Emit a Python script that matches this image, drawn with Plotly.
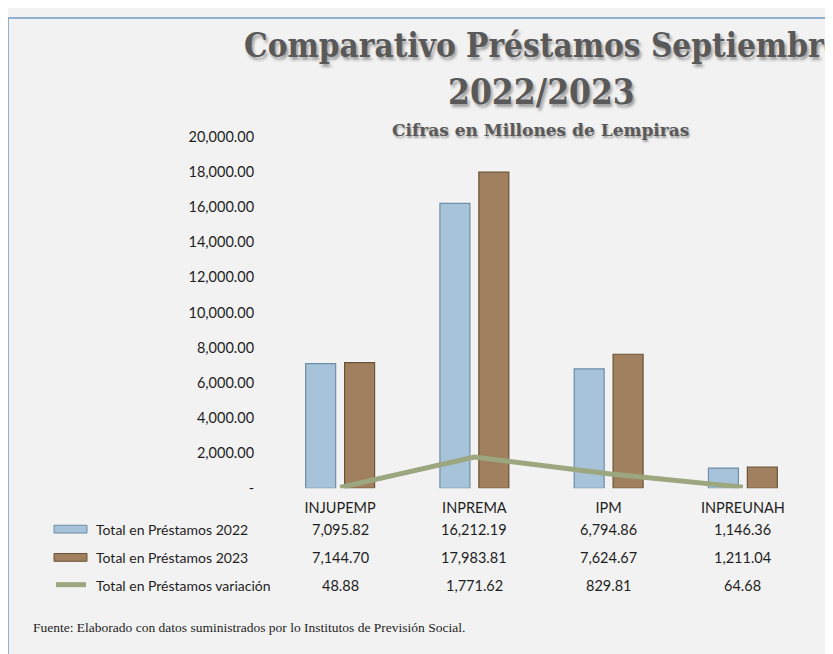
import plotly.graph_objects as go

# ---------------- data ----------------
categories = ["INJUPEMP", "INPREMA", "IPM", "INPREUNAH"]
prestamos_2022 = [7095.82, 16212.19, 6794.86, 1146.36]
prestamos_2023 = [7144.70, 17983.81, 7624.67, 1211.04]
variacion = [48.88, 1771.62, 829.81, 64.68]
series_names = ["Total en Préstamos 2022", "Total en Préstamos 2023", "Total en Préstamos variación"]
y_tick_values = [0, 2000, 4000, 6000, 8000, 10000, 12000, 14000, 16000, 18000, 20000]
y_tick_labels = ["-", "2,000.00", "4,000.00", "6,000.00", "8,000.00", "10,000.00",
                 "12,000.00", "14,000.00", "16,000.00", "18,000.00", "20,000.00"]
title_1 = "Comparativo Préstamos Septiembre"
title_2 = "2022/2023"
subtitle = "Cifras en Millones de Lempiras"
footer = "Fuente: Elaborado con datos suministrados por lo Institutos de Previsión Social."

# ---------------- layout helpers (screen pixel -> paper) ----------------
W, H = 825, 646
OX, OY = 8, 8


def px(x):
    return (x - OX) / W


def py(y):
    return 1 - (y - OY) / H


BLUE = "#A6C3DA"
BLUE_EDGE = "#6E8DA6"
BROWN = "#A0805F"
BROWN_EDGE = "#6A5238"
GREEN = "#9CA67F"
SANS = "Lato, sans-serif"
TXT = "#1E1E1E"

fig = go.Figure()
fig.add_trace(go.Bar(x=categories, y=prestamos_2022, name=series_names[0],
                     marker=dict(color=BLUE, line=dict(color=BLUE_EDGE, width=1.2))))
fig.add_trace(go.Bar(x=categories, y=prestamos_2023, name=series_names[1],
                     marker=dict(color=BROWN, line=dict(color=BROWN_EDGE, width=1.2))))
fig.add_trace(go.Scatter(x=categories, y=variacion, name=series_names[2], mode="lines",
                         line=dict(color=GREEN, width=5)))

annotations = []
TITLE_FONT = "DejaVu Serif Condensed, DejaVu Serif, serif"
annotations.append(dict(text=f"<b>{title_1}</b>", x=px(543), y=py(37), xref="paper", yref="paper",
                        showarrow=False, xanchor="center", yanchor="middle",
                        font=dict(family=TITLE_FONT, size=33,
                                  color="#595959", shadow="2px 3px 3px rgba(0,0,0,0.35)")))
annotations.append(dict(text=f"<b>{title_2}</b>", x=px(541), y=py(84), xref="paper", yref="paper",
                        showarrow=False, xanchor="center", yanchor="middle",
                        font=dict(family=TITLE_FONT, size=35,
                                  color="#595959", shadow="2px 3px 3px rgba(0,0,0,0.35)")))
annotations.append(dict(text=f"<b>{subtitle}</b>", x=px(540), y=py(124), xref="paper", yref="paper",
                        showarrow=False, xanchor="center", yanchor="middle",
                        font=dict(family="DejaVu Serif, serif", size=17,
                                  color="#595959", shadow="1px 2px 2px rgba(0,0,0,0.35)")))

# data table
row_y = [534, 563, 592]
rows = [prestamos_2022, prestamos_2023, variacion]
for name, vals, ry in zip(series_names, rows, row_y):
    annotations.append(dict(text=name, x=px(94), y=py(ry), xref="paper", yref="paper",
                            showarrow=False, xanchor="left", yanchor="middle",
                            font=dict(family=SANS, size=14, color=TXT)))
    for c, v in zip(categories, vals):
        annotations.append(dict(text=f"{v:,.2f}", x=c, y=py(ry), xref="x", yref="paper",
                                showarrow=False, xanchor="center", yanchor="middle",
                                font=dict(family=SANS, size=14.5, color=TXT)))

annotations.append(dict(text=footer, x=px(31), y=py(635), xref="paper", yref="paper",
                        showarrow=False, xanchor="left", yanchor="middle",
                        font=dict(family="Liberation Serif, serif", size=13.5, color=TXT)))

shapes = [
    dict(type="line", xref="paper", yref="paper", x0=px(8), x1=1.02, y0=py(9), y1=py(9),
         line=dict(color="#8FB0D0", width=2)),
    dict(type="line", xref="paper", yref="paper", x0=px(8), x1=px(8), y0=py(9), y1=-0.02,
         line=dict(color="#8FB0D0", width=2)),
    dict(type="rect", xref="paper", yref="paper", x0=px(54), x1=px(87), y0=py(538), y1=py(530),
         fillcolor=BLUE, line=dict(color=BLUE_EDGE, width=1)),
    dict(type="rect", xref="paper", yref="paper", x0=px(54), x1=px(87), y0=py(567), y1=py(559),
         fillcolor=BROWN, line=dict(color=BROWN_EDGE, width=1)),
    dict(type="line", xref="paper", yref="paper", x0=px(56), x1=px(86), y0=py(591), y1=py(591),
         line=dict(color=GREEN, width=5)),
]

fig.update_layout(
    width=W, height=H,
    margin=dict(l=0, r=0, t=0, b=0),
    paper_bgcolor="#F2F2F2",
    plot_bgcolor="rgba(0,0,0,0)",
    showlegend=False,
    barmode="group",
    bargap=0.42,
    bargroupgap=0.23,
    annotations=annotations,
    shapes=shapes,
    xaxis=dict(domain=[px(273), px(810)], range=[-0.5, 3.5], showgrid=False, showline=False,
               zeroline=False, ticks="outside", ticklen=6, tickcolor="rgba(0,0,0,0)",
               tickfont=dict(family=SANS, size=14.5, color=TXT)),
    yaxis=dict(domain=[py(492), py(131)], range=[0, 20000], showgrid=False, showline=False,
               zeroline=False, tickvals=y_tick_values, ticktext=y_tick_labels,
               ticks="outside", ticklen=15, tickcolor="rgba(0,0,0,0)",
               tickfont=dict(family=SANS, size=14.5, color=TXT)),
)

fig.write_html("out.html")
